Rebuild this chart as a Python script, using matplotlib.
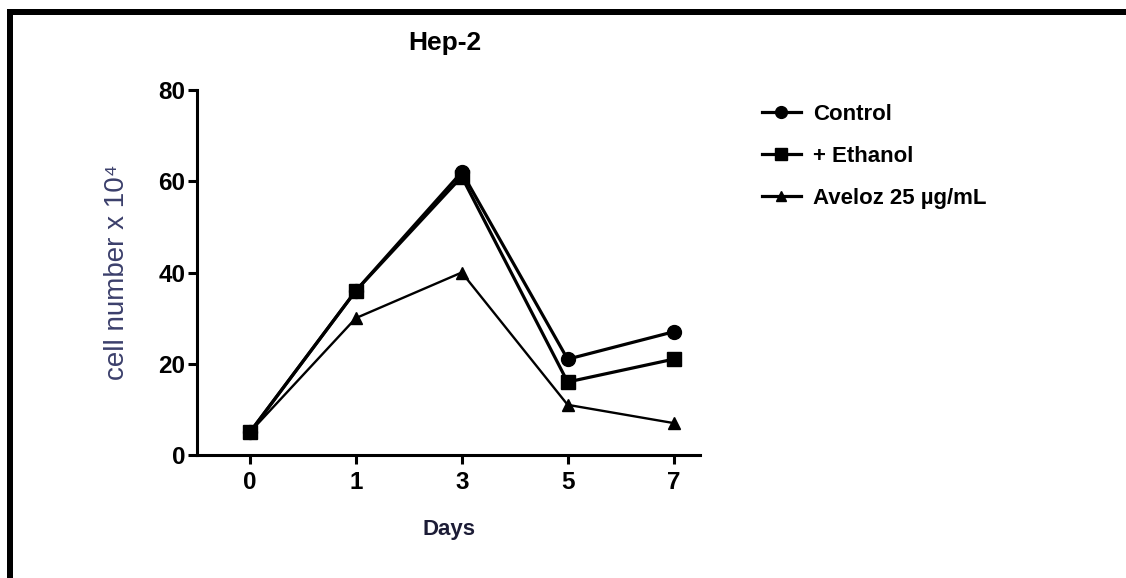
import matplotlib

matplotlib.use("Agg")
import matplotlib.pyplot as plt
import numpy as np
from matplotlib.patches import Rectangle

DAYS = ["0", "1", "3", "5", "7"]
CONTROL = [5, 36, 62, 21, 27]
ETHANOL = [5, 36, 61, 16, 21]
AVELOZ = [5, 30, 40, 11, 7]
SERIES_LABELS = ["Control", "+ Ethanol", "Aveloz 25 \u00b5g/mL"]
Y_TICKS = [0, 20, 40, 60, 80]

plt.rcParams.update(
    {
        "font.family": ["Liberation Sans", "DejaVu Sans"],
        "font.weight": "bold",
        "axes.linewidth": 2.2,
    }
)

fig = plt.figure(figsize=(11.26, 5.78), dpi=100)
ax = fig.add_axes([197 / 1126, 1 - 455 / 578, (700 - 197) / 1126, (455 - 90) / 578])

x = np.arange(len(DAYS))
ax.plot(x, CONTROL, color="black", lw=2.3, marker="o", ms=10, label=SERIES_LABELS[0], zorder=3)
ax.plot(x, ETHANOL, color="black", lw=2.3, marker="s", ms=10, label=SERIES_LABELS[1], zorder=3)
ax.plot(x, AVELOZ, color="black", lw=1.7, marker="^", ms=9, label=SERIES_LABELS[2], zorder=3)

ax.set_xlim(-0.5, 4.25)
ax.set_ylim(0, 80)
ax.set_xticks(x)
ax.set_xticklabels(DAYS)
ax.set_yticks(Y_TICKS)
ax.tick_params(axis="both", direction="out", length=6.5, width=2.2, labelsize=17.5)
ax.tick_params(axis="x", pad=5)
ax.tick_params(axis="y", pad=2)
for lab in ax.get_xticklabels() + ax.get_yticklabels():
    lab.set_fontweight("bold")
ax.spines["top"].set_visible(False)
ax.spines["right"].set_visible(False)

ax.set_xlabel("Days", fontsize=16, fontweight="bold", color="#1c1c36", labelpad=18)
ax.set_ylabel("cell number x 10\u2074", fontsize=20, fontweight="normal", color="#3b3f6b", labelpad=20)
fig.text(445 / 1126, 1 - 43 / 578, "Hep-2", ha="center", va="center", fontsize=19, fontweight="bold")

fig.legend(
    loc="upper left",
    bbox_to_anchor=(762 / 1126, 1 - 104 / 578),
    frameon=False,
    handlelength=1.75,
    handletextpad=0.55,
    labelspacing=0.95,
    borderaxespad=0,
    borderpad=0,
    markerscale=0.85,
    prop={"weight": "bold", "size": 16},
)
for h in fig.legends[0].get_lines():
    h.set_linewidth(2.3)

# picture frame: top and left bars
fig.add_artist(Rectangle((7 / 1126, 1 - 15 / 578), 1 - 7 / 1126, 6 / 578,
                         transform=fig.transFigure, color="black", lw=0))
fig.add_artist(Rectangle((7 / 1126, 0), 6 / 1126, 1 - 9 / 578,
                         transform=fig.transFigure, color="black", lw=0))

fig.savefig("out.png", dpi=100)
